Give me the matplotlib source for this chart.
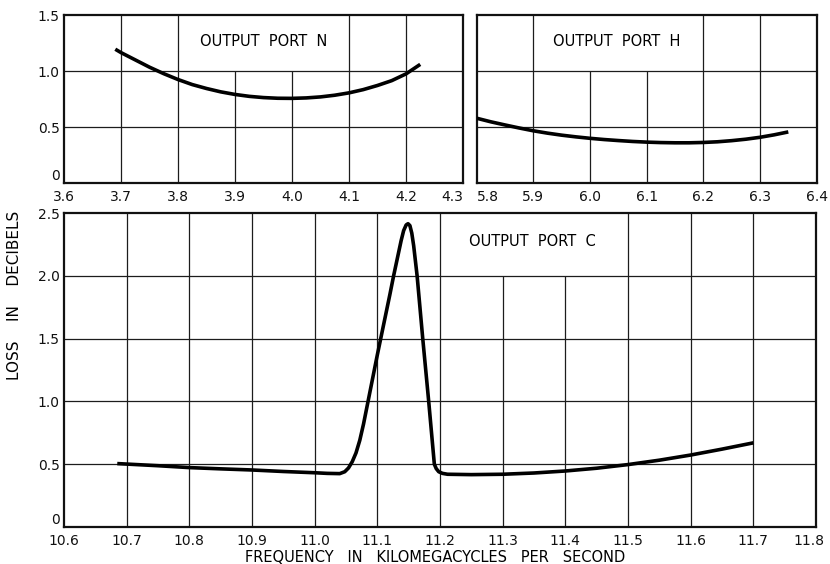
import numpy as np
import matplotlib
matplotlib.use('Agg')
import matplotlib.pyplot as plt
import matplotlib.transforms as mtransforms

plt.rcParams['font.family'] = ['DejaVu Sans']

# output port N (top left)
freq_n = [3.69, 3.70, 3.725, 3.75, 3.775, 3.80, 3.825, 3.85, 3.875, 3.90, 3.925,
          3.95, 3.975, 4.00, 4.025, 4.05, 4.075, 4.10, 4.125, 4.15, 4.175, 4.20, 4.225]
loss_n = [1.195, 1.165, 1.100, 1.035, 0.977, 0.925, 0.880, 0.845, 0.815, 0.792, 0.775,
          0.764, 0.758, 0.757, 0.761, 0.770, 0.785, 0.806, 0.835, 0.872, 0.915, 0.975, 1.06]

# output port H (top right)
freq_h = [5.80, 5.825, 5.85, 5.875, 5.90, 5.925, 5.95, 5.975, 6.00, 6.025, 6.05, 6.075,
          6.10, 6.125, 6.15, 6.175, 6.20, 6.225, 6.25, 6.275, 6.30, 6.325, 6.35]
loss_h = [0.58, 0.548, 0.52, 0.493, 0.468, 0.447, 0.429, 0.414, 0.401, 0.39, 0.381, 0.373,
          0.367, 0.363, 0.361, 0.361, 0.364, 0.370, 0.380, 0.393, 0.41, 0.432, 0.458]

# output port C (bottom)
freq_c = [10.685, 10.75, 10.80, 10.85, 10.90, 10.95, 11.00, 11.02, 11.04, 11.048,
          11.054, 11.060, 11.066, 11.072, 11.078, 11.084, 11.090, 11.100, 11.110,
          11.120, 11.126, 11.132, 11.138, 11.142, 11.146, 11.149, 11.152, 11.155,
          11.158, 11.1635, 11.1725, 11.182, 11.191, 11.194, 11.198, 11.204, 11.212,
          11.25, 11.30, 11.35, 11.40, 11.45, 11.50, 11.55, 11.60, 11.65, 11.70]
loss_c = [0.505, 0.488, 0.473, 0.463, 0.454, 0.442, 0.432, 0.427, 0.425, 0.44,
          0.47, 0.52, 0.59, 0.69, 0.82, 0.97, 1.12, 1.37, 1.61,
          1.85, 2.00, 2.14, 2.28, 2.36, 2.405, 2.415, 2.40, 2.34,
          2.24, 2.00, 1.50, 1.00, 0.50, 0.465, 0.44, 0.427, 0.42,
          0.417, 0.42, 0.43, 0.446, 0.468, 0.497, 0.532, 0.573, 0.62, 0.67]

xticks_n = [3.6, 3.7, 3.8, 3.9, 4.0, 4.1, 4.2, 4.3]
xticks_h = [5.8, 5.9, 6.0, 6.1, 6.2, 6.3, 6.4]
xticks_c = [10.6, 10.7, 10.8, 10.9, 11.0, 11.1, 11.2, 11.3, 11.4, 11.5, 11.6, 11.7, 11.8]
yticks_top = [0, 0.5, 1.0, 1.5]
ylabels_top = ['0', '0.5', '1.0', '1.5']
yticks_c = [0, 0.5, 1.0, 1.5, 2.0, 2.5]
ylabels_c = ['0', '0.5', '1.0', '1.5', '2.0', '2.5']

GRID = '#1c1c1c'


def dress(ax, xticks, yticks, ylabels, full_x, short_x, short_top, hlines):
    ax.set_xlim(xticks[0], xticks[-1])
    ax.set_ylim(yticks[0], yticks[-1])
    ax.set_xticks(xticks)
    ax.set_xticklabels([f'{t:.1f}' for t in xticks])
    ax.set_yticks(yticks)
    ax.set_yticklabels(ylabels)
    ax.tick_params(length=0, labelsize=10, colors='#111111')
    ax.tick_params(axis='x', pad=5)
    ax.tick_params(axis='y', pad=3)
    # the "0" sits on the bottom spine, clear of the first x label
    ax.get_yticklabels()[0].set_verticalalignment('bottom')
    for sp in ax.spines.values():
        sp.set_linewidth(1.6)
        sp.set_color('#111111')
    # grid is broken where the panel title sits
    ax.vlines(full_x, yticks[0], yticks[-1], colors=GRID, lw=0.9, zorder=1)
    ax.vlines(short_x, yticks[0], short_top, colors=GRID, lw=0.9, zorder=1)
    ax.hlines(hlines, xticks[0], xticks[-1], colors=GRID, lw=0.9, zorder=1)


fig = plt.figure(figsize=(8.3, 5.64), dpi=100)
ax_n = fig.add_axes([0.0771, 0.675, 0.4807, 0.2984])
ax_h = fig.add_axes([0.5743, 0.675, 0.4096, 0.2984])
ax_c = fig.add_axes([0.0771, 0.0656, 0.906, 0.5567])

dress(ax_n, xticks_n, yticks_top, ylabels_top,
      [3.7, 3.8, 4.1, 4.2], [3.9, 4.0], 1.0, [0.5, 1.0])
dress(ax_h, xticks_h, yticks_top, ['', '', '', ''],
      [5.9, 6.2, 6.3], [6.0, 6.1], 1.0, [0.5, 1.0])
dress(ax_c, xticks_c, yticks_c, ylabels_c,
      [10.7, 10.8, 10.9, 11.0, 11.1, 11.2, 11.5, 11.6, 11.7], [11.3, 11.4], 2.0,
      [0.5, 1.0, 1.5, 2.0])

# the two panels meet: keep 4.3 and 5.8 apart
ax_n.get_xticklabels()[-1].set_horizontalalignment('right')
ax_h.get_xticklabels()[0].set_horizontalalignment('left')
# pull the last bottom label inside the figure edge
last = ax_c.get_xticklabels()[-1]
last.set_transform(last.get_transform() +
                   mtransforms.ScaledTranslation(-5 / 72, 0, fig.dpi_scale_trans))

lw = 2.6
ax_n.plot(freq_n, loss_n, color='black', lw=lw, solid_capstyle='butt',
          solid_joinstyle='round', zorder=3)
ax_h.plot(freq_h, loss_h, color='black', lw=lw, solid_capstyle='butt',
          solid_joinstyle='round', zorder=3)
ax_c.plot(freq_c, loss_c, color='black', lw=lw, solid_capstyle='butt',
          solid_joinstyle='round', zorder=3)

ax_n.text(3.951, 1.26, 'OUTPUT  PORT  N', ha='center', va='center', fontsize=10.5)
ax_h.text(6.047, 1.26, 'OUTPUT  PORT  H', ha='center', va='center', fontsize=10.5)
ax_c.text(11.347, 2.27, 'OUTPUT  PORT  C', ha='center', va='center', fontsize=10.5)

fig.text(0.018, 0.477, 'LOSS    IN    DECIBELS', rotation=90, ha='center',
         va='center', fontsize=11)
fig.text(0.524, 0.011, 'FREQUENCY   IN   KILOMEGACYCLES   PER   SECOND', ha='center',
         va='center', fontsize=10.5)

fig.savefig('out.png', dpi=100, facecolor='white')
